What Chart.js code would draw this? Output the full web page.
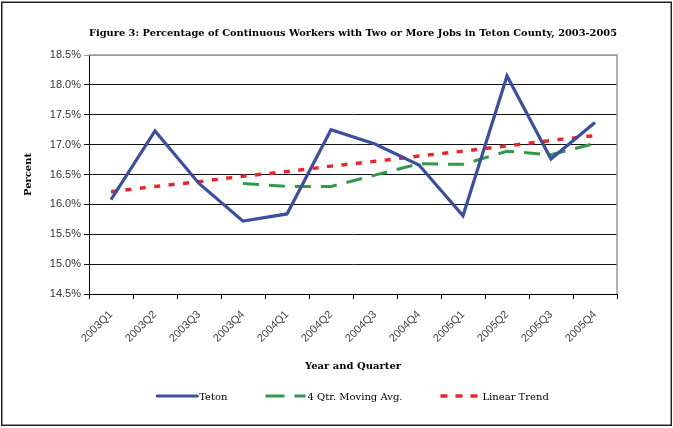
<!DOCTYPE html>
<html>
<head>
<meta charset="utf-8">
<script src="https://cdn.jsdelivr.net/npm/chart.js@4.4.1/dist/chart.umd.min.js"></script>
<style>
  html, body { margin: 0; padding: 0; background: #fff; }
  #wrap { width: 673px; height: 428px; }
</style>
</head>
<body>
<div id="wrap"><canvas id="c" width="673" height="428"></canvas></div>
<script>
// ---- data ----
const categories = ['2003Q1','2003Q2','2003Q3','2003Q4','2004Q1','2004Q2','2004Q3','2004Q4','2005Q1','2005Q2','2005Q3','2005Q4'];
const tetonValues = [16.08, 17.23, 16.35, 15.72, 15.84, 17.25, 17.01, 16.66, 15.81, 18.15, 16.76, 17.37];
const movingAvgValues = [null, null, null, 16.35, 16.30, 16.30, 16.49, 16.68, 16.67, 16.89, 16.83, 17.02];
const trendValues = [16.21, 16.30, 16.38, 16.47, 16.55, 16.64, 16.72, 16.81, 16.89, 16.98, 17.07, 17.15];
const yTickValues = [14.5, 15.0, 15.5, 16.0, 16.5, 17.0, 17.5, 18.0, 18.5];
const seriesLabels = ['Teton', '4 Qtr. Moving Avg.', 'Linear Trend'];
const chartTitle = 'Figure 3: Percentage of Continuous Workers with Two or More Jobs in Teton County, 2003-2005';
const xTitle = 'Year and Quarter';
const yTitle = 'Percent';

const serifBold = { family: '"DejaVu Serif", serif', size: 10, weight: 'bold' };
const sansTick = { family: '"Liberation Sans", Arial, sans-serif', size: 11 };

const framePlugin = {
  id: 'frame',
  beforeDraw(chart) {
    const ctx = chart.ctx;
    ctx.save();
    ctx.fillStyle = '#fff';
    ctx.fillRect(0, 0, chart.width, chart.height);
    ctx.strokeStyle = '#222';
    ctx.lineWidth = 1.5;
    ctx.strokeRect(1.75, 2.25, 669.5, 423);
    ctx.restore();
  },
  beforeDatasetsDraw(chart) {
    const { ctx, chartArea: a } = chart;
    ctx.save();
    ctx.strokeStyle = '#999';
    ctx.lineWidth = 1.5;
    ctx.beginPath();
    ctx.moveTo(a.left, a.top);
    ctx.lineTo(a.right, a.top);
    ctx.lineTo(a.right, a.bottom);
    ctx.stroke();
    ctx.restore();
  }
};

const legendLayout = { lineY: 396, textY: 397, sampleWidth: 40, textGap: 2, itemGap: 38 };
const legendPlugin = {
  id: 'customLegend',
  afterDraw(chart) {
    const ctx = chart.ctx;
    const a = chart.chartArea;
    const L = legendLayout;
    ctx.save();
    ctx.font = '10px "DejaVu Serif", serif';
    const items = chart.data.datasets.map(ds => ({
      ds, w: L.sampleWidth + L.textGap + ctx.measureText(ds.label).width
    }));
    const total = items.reduce((s, it) => s + it.w, 0) + L.itemGap * (items.length - 1);
    let x = (a.left + a.right) / 2 - total / 2;
    items.forEach(it => {
      const ds = it.ds;
      ctx.strokeStyle = ds.borderColor;
      ctx.lineWidth = ds.borderWidth;
      ctx.setLineDash(ds.legendDash || []);
      ctx.lineCap = ds.legendCap || 'butt';
      ctx.beginPath();
      ctx.moveTo(x, L.lineY);
      ctx.lineTo(x + L.sampleWidth, L.lineY);
      ctx.stroke();
      ctx.setLineDash([]);
      ctx.fillStyle = '#000';
      ctx.textBaseline = 'middle';
      ctx.textAlign = 'left';
      ctx.fillText(ds.label, x + L.sampleWidth + L.textGap, L.textY);
      x += it.w + L.itemGap;
    });
    ctx.restore();
  }
};

new Chart(document.getElementById('c'), {
  type: 'line',
  data: {
    labels: categories,
    datasets: [
      {
        label: seriesLabels[0], data: tetonValues,
        borderColor: '#3B4FA2', borderWidth: 3.2, pointRadius: 0, tension: 0,
        borderJoinStyle: 'miter', legendCap: 'round', order: 1
      },
      {
        label: seriesLabels[1], data: movingAvgValues,
        borderColor: '#31994A', borderWidth: 3, borderDash: [16, 10], pointRadius: 0, tension: 0,
        legendDash: [19, 10], order: 2
      },
      {
        label: seriesLabels[2], data: trendValues,
        borderColor: '#EE2526', borderWidth: 3.5, borderDash: [6, 8.5], pointRadius: 0, tension: 0,
        legendDash: [7, 8], order: 3
      }
    ]
  },
  options: {
    responsive: false,
    animation: false,
    devicePixelRatio: 1,
    layout: { padding: { left: 4, right: 56, top: 0, bottom: 47 } },
    plugins: {
      legend: { display: false },
      tooltip: { enabled: false },
      title: {
        display: true, text: chartTitle, fullSize: false,
        font: serifBold, color: '#000',
        padding: { top: 27, bottom: 16 }
      }
    },
    scales: {
      x: {
        offset: true,
        grid: { display: true, drawOnChartArea: false, drawTicks: true, tickLength: 5, offset: true, color: '#000', lineWidth: 1 },
        border: { display: true, color: '#000', width: 1 },
        ticks: { font: sansTick, color: '#444', minRotation: 45, maxRotation: 45, autoSkip: false, padding: 9 },
        title: { display: true, text: xTitle, font: serifBold, color: '#000', padding: { top: 0, bottom: 9 } },
        afterFit(scale) { scale.height = 87; }
      },
      y: {
        min: 14.5, max: 18.5,
        afterBuildTicks(scale) { scale.ticks = yTickValues.map(v => ({ value: v })); },
        grid: {
          color: ctx => (ctx.tick && ctx.tick.value === 18.5 ? '#999' : '#111'),
          lineWidth: 1, drawTicks: true, tickLength: 5
        },
        border: { display: true, color: '#000', width: 1 },
        ticks: { font: sansTick, color: '#333', padding: 3, callback: v => Number(v).toFixed(1) + '%' },
        title: { display: true, text: yTitle, font: serifBold, color: '#000', padding: { top: 18, bottom: 0 } },
        afterFit(scale) { scale.width = 85; }
      }
    }
  },
  plugins: [framePlugin, legendPlugin]
});
</script>
</body>
</html>
